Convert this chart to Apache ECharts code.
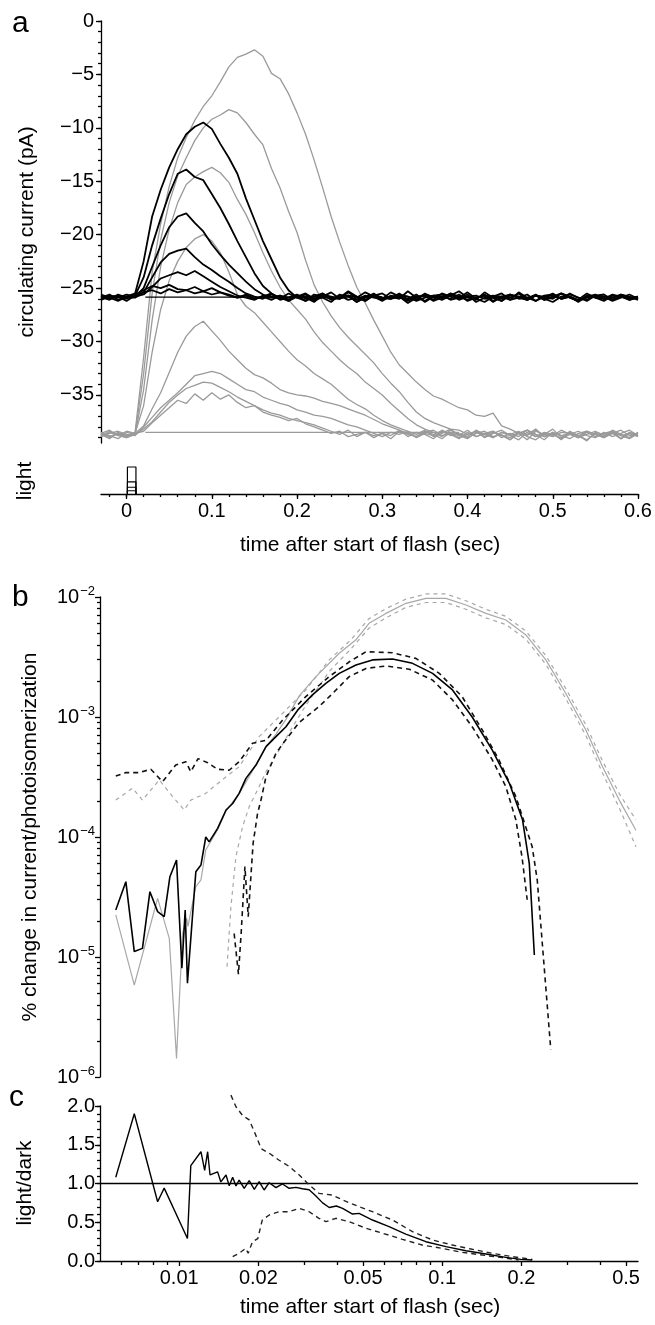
<!DOCTYPE html>
<html><head><meta charset="utf-8">
<script src="https://cdn.jsdelivr.net/npm/echarts@6/dist/echarts.min.js"></script>
<style>html,body{margin:0;padding:0;background:#fff}#c{width:655px;height:1325px}</style>
</head><body><div id="c"></div><script>
const FONT = '"Liberation Sans", Arial, Helvetica, sans-serif';

// ---------- panel a : time grid (s) ----------
const tA = [-0.03,-0.02,-0.01,0,0.01,0.02,0.03,0.04,0.05,0.06,0.07,0.08,0.09,0.1,0.11,0.12,0.13,0.14,0.15,0.16,0.17,0.18,0.19,0.2,0.21,0.22,0.23,0.24,0.25,0.26,0.27,0.28,0.29,0.3,0.31,0.32,0.33,0.34,0.35,0.36,0.37,0.38,0.39,0.4,0.41,0.42,0.43,0.44,0.45,0.46,0.47,0.48,0.49,0.5,0.51,0.52,0.53,0.54,0.55,0.56,0.57,0.58,0.59,0.6];

// dark-adapted responses (black), pA
const black1 = [-25.9,-25.6,-26.1,-25.8,-25.5,-22.5,-18.3,-15.8,-13.7,-12.0,-10.6,-9.9,-9.5,-10.1,-11.5,-12.8,-14.3,-16.6,-18.6,-20.6,-22.3,-24.0,-25.2,-25.9,-25.6,-26.2,-25.8,-25.4,-26.0,-25.7,-26.3,-25.9,-25.5,-26.1,-25.8,-26.0,-25.3,-25.9,-26.2,-25.7,-25.6,-26.1,-25.9,-25.4,-26.0,-26.3,-25.8,-25.5,-26.1,-25.9,-25.6,-26.2,-25.8,-25.7,-26.0,-25.5,-25.9,-26.2,-25.7,-25.8,-26.1,-25.6,-25.9,-25.8];
const black2 = [-25.7,-26.0,-25.8,-26.2,-25.7,-24.0,-21.0,-18.5,-16.2,-14.3,-13.9,-14.6,-14.9,-16.2,-17.5,-19.0,-20.6,-22.1,-23.6,-24.8,-25.5,-25.9,-26.1,-25.7,-25.9,-26.3,-25.6,-25.8,-26.0,-25.4,-25.9,-26.2,-25.7,-25.5,-26.0,-25.8,-26.4,-25.9,-25.6,-25.8,-26.1,-25.7,-25.3,-25.9,-26.0,-25.6,-26.2,-25.8,-25.9,-25.5,-26.1,-25.7,-26.0,-26.3,-25.8,-25.6,-25.9,-26.1,-25.7,-25.8,-26.2,-25.9,-25.6,-26.0];
const black3 = [-26.0,-25.7,-25.9,-25.6,-25.8,-25.0,-23.0,-21.0,-19.3,-18.3,-18.0,-18.9,-19.7,-20.9,-21.9,-22.8,-23.6,-24.4,-25.1,-25.6,-25.9,-25.7,-26.2,-25.8,-25.5,-26.0,-25.9,-26.3,-25.6,-25.8,-26.1,-25.7,-25.9,-26.0,-25.4,-25.8,-26.2,-25.9,-25.7,-26.1,-25.5,-25.8,-26.0,-25.6,-26.3,-25.9,-25.7,-25.8,-26.1,-25.4,-25.9,-26.2,-25.7,-25.6,-26.0,-25.8,-26.1,-25.5,-25.9,-26.2,-25.7,-25.8,-26.0,-25.9];
const black4 = [-25.8,-26.1,-25.6,-25.9,-25.9,-25.4,-24.0,-22.6,-21.8,-21.5,-21.3,-22.1,-22.8,-23.3,-23.9,-24.4,-25.0,-25.5,-25.8,-26.0,-25.6,-25.9,-26.2,-25.7,-25.8,-26.1,-25.5,-25.9,-26.0,-25.7,-26.3,-25.8,-25.6,-26.0,-25.9,-25.5,-26.1,-25.8,-25.7,-26.2,-25.9,-25.6,-26.0,-25.8,-26.1,-25.4,-25.9,-26.2,-25.7,-25.8,-26.0,-25.6,-26.1,-25.9,-25.5,-25.8,-26.3,-25.7,-25.9,-26.0,-25.6,-25.8,-26.1,-25.9];
const black5 = [-25.6,-25.9,-26.2,-25.8,-25.8,-25.6,-24.9,-24.1,-23.8,-23.5,-23.8,-23.4,-23.9,-24.4,-24.9,-25.3,-25.7,-25.9,-26.1,-25.7,-25.8,-26.0,-25.5,-25.9,-26.2,-25.6,-25.8,-26.0,-25.7,-26.1,-25.9,-25.4,-25.8,-26.2,-25.7,-25.9,-26.0,-25.6,-26.3,-25.8,-25.9,-25.5,-26.1,-25.8,-25.7,-26.0,-25.9,-26.2,-25.6,-25.8,-26.1,-25.7,-25.9,-25.5,-26.0,-25.8,-26.2,-25.9,-25.7,-25.6,-26.1,-25.8,-25.9,-26.0];
const black6 = [-26.1,-25.8,-25.7,-26.0,-25.6,-25.2,-24.8,-25.0,-24.7,-25.1,-25.2,-24.9,-25.3,-25.0,-25.4,-25.6,-25.9,-25.7,-26.0,-25.8,-25.5,-26.1,-25.9,-25.7,-26.2,-25.8,-25.6,-26.0,-25.9,-25.3,-25.8,-26.1,-25.7,-25.9,-26.0,-25.6,-25.8,-26.2,-25.9,-25.7,-26.0,-25.5,-25.8,-26.1,-25.9,-25.7,-26.3,-25.8,-25.6,-26.0,-25.9,-25.7,-26.1,-25.8,-25.5,-25.9,-26.2,-25.8,-25.6,-26.0,-25.9,-25.7,-26.1,-25.8];
const black7 = [-25.9,-26.0,-25.7,-25.8,-25.7,-25.4,-25.2,-25.5,-25.1,-25.4,-25.2,-25.5,-25.3,-25.6,-25.4,-25.7,-25.9,-25.6,-26.0,-25.8,-26.1,-25.7,-25.9,-25.6,-26.0,-25.8,-25.5,-26.1,-25.9,-25.7,-25.8,-26.2,-25.6,-25.9,-26.0,-25.7,-25.8,-26.1,-25.5,-25.9,-25.8,-26.0,-25.6,-26.2,-25.9,-25.7,-25.8,-26.0,-25.6,-25.9,-26.1,-25.7,-25.8,-26.0,-25.5,-25.9,-26.2,-25.8,-25.7,-26.0,-25.9,-25.6,-25.8,-26.1];

// light-adapted responses (grey), pA
const gray1 = [-38.7,-39.0,-38.6,-38.9,-38.5,-31.5,-23.5,-19.0,-15.5,-12.8,-10.9,-9.3,-8.0,-7.0,-5.7,-4.3,-3.4,-3.1,-2.7,-3.3,-4.9,-5.4,-6.8,-8.6,-10.6,-13.0,-15.6,-18.3,-20.7,-22.9,-24.9,-26.4,-28.0,-29.5,-31.0,-32.2,-33.0,-33.8,-34.5,-35.1,-35.4,-35.8,-36.2,-36.4,-36.9,-37.0,-36.7,-37.9,-38.2,-38.6,-38.3,-38.9,-38.5,-38.7,-39.1,-38.4,-38.8,-39.2,-38.6,-38.9,-38.3,-38.7,-39.0,-38.5];
const gray2 = [-38.9,-38.5,-38.8,-38.4,-38.6,-33.0,-25.5,-20.5,-17.0,-14.5,-12.8,-11.2,-10.0,-9.2,-8.8,-8.3,-8.6,-9.5,-10.6,-11.6,-13.8,-15.6,-17.8,-19.8,-22.4,-24.7,-26.3,-27.6,-28.7,-29.6,-30.4,-31.2,-32.0,-33.0,-33.9,-34.7,-35.7,-36.6,-37.2,-37.6,-37.9,-38.2,-38.3,-38.7,-38.4,-39.0,-38.6,-38.3,-38.8,-39.2,-38.5,-38.9,-38.7,-38.2,-39.0,-38.6,-38.8,-39.3,-38.5,-38.7,-38.4,-39.1,-38.6,-38.8];
const gray3 = [-38.6,-38.8,-39.1,-38.5,-38.7,-34.5,-28.0,-23.0,-19.5,-17.0,-15.3,-14.6,-14.1,-13.7,-14.2,-15.1,-16.7,-18.1,-19.8,-21.7,-23.4,-24.9,-26.1,-27.0,-27.9,-29.1,-30.1,-30.9,-31.7,-32.4,-33.0,-33.8,-34.4,-35.0,-35.8,-36.5,-37.2,-37.8,-38.2,-38.5,-38.9,-38.3,-38.7,-39.0,-38.6,-38.4,-38.9,-38.7,-39.2,-38.5,-38.8,-38.3,-38.9,-38.6,-39.1,-38.7,-38.4,-38.8,-39.0,-38.5,-38.9,-38.6,-38.3,-38.8];
const gray4 = [-38.8,-38.4,-38.7,-39.0,-38.6,-36.0,-31.0,-27.0,-24.3,-22.5,-21.2,-20.4,-20.0,-20.6,-21.7,-23.5,-25.6,-26.7,-27.3,-28.2,-29.1,-30.0,-30.9,-31.7,-32.3,-33.0,-33.5,-34.0,-34.7,-35.4,-35.9,-36.3,-36.9,-37.4,-37.8,-38.1,-38.4,-38.7,-38.3,-38.9,-38.6,-38.2,-38.8,-39.1,-38.5,-38.7,-38.4,-39.0,-38.6,-38.9,-38.3,-38.7,-39.2,-38.5,-38.8,-38.6,-39.0,-38.4,-38.7,-38.9,-38.5,-39.1,-38.6,-38.7];
const gray5 = [-38.5,-38.9,-38.6,-38.8,-38.6,-37.9,-36.3,-34.8,-32.9,-31.0,-29.5,-28.6,-28.1,-29.0,-29.9,-30.9,-31.7,-32.5,-33.1,-33.4,-33.9,-34.5,-34.8,-35.0,-35.1,-35.3,-35.6,-35.8,-36.0,-36.3,-36.6,-36.9,-37.3,-37.7,-38.0,-38.3,-38.6,-38.9,-38.4,-38.7,-39.1,-38.5,-38.8,-38.3,-38.9,-38.6,-39.0,-38.5,-38.7,-38.4,-38.9,-39.2,-38.6,-38.8,-38.3,-38.7,-39.0,-38.5,-38.9,-38.6,-38.4,-38.8,-39.1,-38.6];
const gray6 = [-38.9,-38.6,-38.4,-38.7,-38.8,-38.0,-37.1,-36.2,-35.5,-34.8,-34.0,-33.2,-33.0,-32.8,-33.0,-33.5,-34.0,-34.5,-34.7,-35.2,-35.5,-35.8,-36.0,-36.4,-36.6,-36.9,-37.0,-37.2,-37.5,-37.8,-38.0,-38.3,-38.6,-38.9,-38.5,-38.7,-38.4,-39.0,-38.6,-38.8,-38.3,-38.7,-39.1,-38.5,-38.9,-38.6,-38.4,-38.8,-39.0,-38.5,-38.7,-38.2,-38.9,-38.6,-39.2,-38.5,-38.8,-38.4,-38.7,-39.0,-38.6,-38.3,-38.8,-38.7];
const gray7 = [-38.6,-38.3,-38.8,-39.0,-38.7,-38.2,-37.5,-36.6,-35.7,-35.0,-34.4,-34.1,-33.8,-33.9,-34.3,-34.7,-35.2,-35.6,-36.0,-36.4,-36.7,-36.9,-37.2,-37.4,-37.6,-37.8,-38.1,-38.4,-38.7,-38.3,-38.9,-38.5,-38.8,-38.6,-39.1,-38.4,-38.7,-38.9,-38.5,-38.3,-38.8,-38.6,-39.0,-38.7,-38.4,-38.9,-38.5,-38.8,-39.2,-38.6,-38.3,-38.7,-38.9,-38.5,-38.8,-39.1,-38.6,-38.4,-38.7,-39.0,-38.5,-38.8,-38.6,-38.9];
const gray8 = [-38.7,-39.1,-38.5,-38.8,-38.6,-38.4,-37.6,-36.9,-36.2,-35.5,-35.8,-34.9,-35.5,-34.8,-35.4,-35.0,-35.7,-36.2,-36.0,-36.6,-36.9,-37.1,-37.4,-37.2,-37.7,-38.0,-38.3,-38.6,-38.4,-38.9,-38.7,-38.5,-39.0,-38.6,-38.8,-38.3,-38.9,-38.5,-38.7,-39.1,-38.4,-38.8,-38.6,-38.9,-38.3,-38.7,-39.0,-38.5,-38.8,-38.6,-39.2,-38.4,-38.7,-38.9,-38.5,-38.6,-39.0,-38.7,-38.4,-38.8,-38.6,-39.1,-38.5,-38.7];

// flat reference levels
const blackFlatT = [0.022, 0.30];
const blackFlatV = [-25.85, -25.85];
const grayFlatT = [0.022, 0.39];
const grayFlatV = [-38.5, -38.5];

// light monitor: flash on/off times (s) and relative intensities
const flashT = [0.001, 0.011];
const lightLevels = [1.0, 0.45, 0.25, 0.12];

// tick labels panel a
const aYTicks = [-35,-30,-25,-20,-15,-10,-5,0];
const aYMinor = [-39,-38,-37,-36,-35,-34,-33,-32,-31,-30,-29,-28,-27,-26,-25,-24,-23,-22,-21,-20,-19,-18,-17,-16,-15,-14,-13,-12,-11,-10,-9,-8,-7,-6,-5,-4,-3,-2,-1,0];
const aXTicks = [0,0.1,0.2,0.3,0.4,0.5,0.6];
const aXMinor = [-0.02,0,0.02,0.04,0.06,0.08,0.1,0.12,0.14,0.16,0.18,0.2,0.22,0.24,0.26,0.28,0.3,0.32,0.34,0.36,0.38,0.4,0.42,0.44,0.46,0.48,0.5,0.52,0.54,0.56,0.58,0.6];

// ---------- panel b : % change per photoisomerization ----------
const darkMeanT = [0.00574,0.00627,0.00675,0.00725,0.00774,0.00828,0.00877,0.00922,0.00977,0.01024,0.01054,0.01075,0.01157,0.0121,0.01262,0.013,0.014,0.01507,0.01597,0.0169,0.01794,0.01959,0.02138,0.02333,0.02547,0.0282,0.0321,0.0361,0.0406,0.047,0.0543,0.0647,0.0771,0.0919,0.1094,0.130,0.155,0.18,0.202,0.2143,0.224];
const darkMeanV = [2.46e-5,4.24e-5,1.11e-5,1.18e-5,3.5e-5,2.39e-5,2.17e-5,4.67e-5,6.43e-5,8.05e-6,2.46e-5,6.04e-6,5.14e-5,5.84e-5,1.0e-4,9.1e-5,1.18e-4,1.68e-4,1.9e-4,2.31e-4,3.08e-4,3.98e-4,5.66e-4,6.86e-4,8.3e-4,1.14e-3,1.53e-3,1.91e-3,2.31e-3,2.71e-3,2.99e-3,3.04e-3,2.8e-3,2.31e-3,1.68e-3,1.0e-3,5.3e-4,2.8e-4,1.39e-4,6.0e-5,1.04e-5];
const darkUpperT = [0.00574,0.00627,0.00705,0.0078,0.00865,0.0097,0.0106,0.01107,0.0118,0.01283,0.014,0.01549,0.0169,0.019,0.0214,0.0247,0.0303,0.0372,0.0445,0.0513,0.0647,0.0794,0.0975,0.119,0.142,0.1643,0.1905,0.2198,0.2297,0.2586];
const darkUpperV = [3.22e-4,3.44e-4,3.44e-4,3.67e-4,2.89e-4,3.98e-4,4.24e-4,3.5e-4,4.5e-4,4.16e-4,3.67e-4,3.6e-4,4.24e-4,6.04e-4,6.4e-4,9.4e-4,1.48e-3,2.17e-3,2.9e-3,3.5e-3,3.43e-3,3.08e-3,2.31e-3,1.48e-3,7.8e-4,4.4e-4,2.17e-4,8.3e-5,4.4e-5,1.7e-6];
const darkLowerT = [0.01618,0.0168,0.0172,0.01778,0.0183,0.0191,0.01986,0.02046,0.02138,0.02333,0.02547,0.0286,0.034,0.0383,0.0443,0.0513,0.0611,0.075,0.0919,0.1094,0.130,0.155,0.1745,0.1905,0.201,0.2104];
const darkLowerV = [1.57e-5,7.2e-6,1.57e-5,5.66e-5,2.17e-5,8.86e-5,1.57e-4,2.03e-4,3.18e-4,4.98e-4,6.5e-4,9.0e-4,1.22e-3,1.57e-3,2.17e-3,2.54e-3,2.66e-3,2.5e-3,2.03e-3,1.39e-3,8.3e-4,4.4e-4,2.63e-4,1.39e-4,6.85e-5,3.0e-5];
const lightMeanT = [0.00574,0.00675,0.00828,0.00917,0.00977,0.0103,0.01067,0.0108,0.01156,0.0121,0.01262,0.014,0.01507,0.0169,0.01959,0.02138,0.02333,0.0255,0.0286,0.0331,0.0406,0.047,0.0527,0.0611,0.0728,0.0867,0.1033,0.1231,0.1466,0.1746,0.208,0.2477,0.295,0.3516,0.407,0.471,0.545];
const lightMeanV = [2.24e-5,5.84e-6,3.08e-5,1.43e-5,1.43e-6,1.57e-5,2.1e-5,1.8e-5,3.85e-5,4.4e-5,7.8e-5,1.15e-4,1.65e-4,2.3e-4,4.0e-4,5.6e-4,7.2e-4,9.6e-4,1.5e-3,2.17e-3,3.4e-3,4.4e-3,6.04e-3,7.3e-3,8.86e-3,9.75e-3,9.75e-3,8.58e-3,7.3e-3,6.43e-3,4.83e-3,2.99e-3,1.57e-3,7.8e-4,3.85e-4,2.03e-4,1.14e-4];
const lightUpperT = [0.00574,0.00665,0.00725,0.0084,0.00944,0.01045,0.01107,0.01262,0.01507,0.0169,0.02014,0.0247,0.0303,0.0372,0.0445,0.0527,0.0611,0.0728,0.0867,0.1033,0.1231,0.1466,0.1746,0.208,0.2477,0.295,0.3516,0.407,0.471,0.545];
const lightUpperV = [2.03e-4,2.55e-4,2.03e-4,2.99e-4,2.17e-4,1.68e-4,2.03e-4,2.31e-4,3.18e-4,3.85e-4,6.86e-4,1.07e-3,1.68e-3,2.99e-3,4.3e-3,6.6e-3,8.0e-3,9.6e-3,1.06e-2,1.06e-2,9.3e-3,7.9e-3,6.9e-3,5.2e-3,3.25e-3,1.72e-3,8.6e-4,4.3e-4,2.3e-4,1.39e-4];
const lightLowerT = [0.0152,0.01573,0.01643,0.01742,0.01846,0.01986,0.02138,0.024,0.027,0.0303,0.0372,0.0445,0.0527,0.0611,0.0728,0.0867,0.1033,0.1231,0.1466,0.1746,0.208,0.2477,0.295,0.3516,0.407,0.471,0.545];
const lightLowerV = [8.3e-6,2.62e-5,6.85e-5,1.22e-4,1.79e-4,2.47e-4,3.5e-4,5.3e-4,8.3e-4,1.25e-3,2.4e-3,3.6e-3,5.5e-3,6.7e-3,8.2e-3,9.0e-3,9.0e-3,7.9e-3,6.7e-3,5.9e-3,4.45e-3,2.75e-3,1.42e-3,7.0e-4,3.4e-4,1.75e-4,8.3e-5];

// ---------- panel c : light/dark ratio ----------
const ratioT = [0.00574,0.00675,0.00828,0.00877,0.01075,0.01107,0.0121,0.0125,0.01283,0.0131,0.014,0.0144,0.01507,0.0155,0.01597,0.01644,0.0169,0.01767,0.01846,0.0193,0.02014,0.02104,0.02198,0.02333,0.0247,0.02619,0.0278,0.0294,0.0312,0.0331,0.0351,0.0372,0.0396,0.0418,0.0456,0.0483,0.0543,0.0628,0.0727,0.0867,0.1033,0.123,0.1466,0.1746,0.199,0.22];
const ratioV = [1.08,1.90,0.765,0.94,0.29,1.23,1.41,1.17,1.41,1.11,1.15,1.02,1.11,0.97,1.08,0.968,1.045,0.938,1.036,0.925,1.023,0.916,1.01,0.946,0.994,0.938,0.95,0.933,0.92,0.84,0.75,0.69,0.71,0.68,0.606,0.615,0.529,0.443,0.348,0.249,0.185,0.133,0.09,0.047,0.021,0.013];
const ratioUpperT = [0.01573,0.01644,0.0174,0.01846,0.0193,0.0205,0.022,0.024,0.0262,0.0286,0.0308,0.034,0.0383,0.0418,0.0483,0.0543,0.0647,0.0771,0.0919,0.1094,0.130,0.155,0.185,0.22];
const ratioUpperV = [2.14,1.99,1.88,1.82,1.67,1.45,1.39,1.30,1.22,1.11,1.0,0.873,0.85,0.787,0.70,0.636,0.529,0.378,0.271,0.206,0.151,0.099,0.056,0.021];
const ratioLowerT = [0.01597,0.0169,0.0179,0.0183,0.019,0.0199,0.0207,0.022,0.024,0.0262,0.0286,0.0312,0.034,0.0361,0.0394,0.0443,0.0513,0.0595,0.0706,0.0839,0.1,0.119,0.142,0.169,0.195];
const ratioLowerV = [0.056,0.099,0.163,0.10,0.249,0.29,0.529,0.594,0.636,0.636,0.68,0.636,0.551,0.507,0.551,0.507,0.422,0.357,0.28,0.206,0.163,0.112,0.077,0.043,0.013];
const unityT = [0.005, 0.555];
const unityV = [1, 1];

// tick labels panels b/c
const logXMin = 0.005, logXMax = 0.555;
const bcXTicks = [0.01,0.02,0.05,0.1,0.2,0.5];
const bcXMinor = [0.006,0.007,0.008,0.009,0.03,0.04,0.06,0.07,0.08,0.09,0.3,0.4];
const bYDecades = [-6,-5,-4,-3,-2];
const bYMinorMult = [2,3,4,5,6,7,8,9];
const cYTicks = [0,0.5,1,1.5,2];
const cYMinor = [0,0.1,0.2,0.3,0.4,0.5,0.6,0.7,0.8,0.9,1,1.1,1.2,1.3,1.4,1.5,1.6,1.7,1.8,1.9,2];

// ---------- build ----------
const L10 = Math.log10;
const bYMinor = [];
bYDecades.slice(0, 4).forEach(n => bYMinorMult.forEach(k => bYMinor.push(L10(k) + n)));

const AX = {color: '#000', width: 1.3};
function pairs(ts, vs) { return ts.map((t, i) => [t, vs[i]]); }
function ln(xi, yi, ts, vs, color, width, dash, z, clip) {
  return {type: 'line', xAxisIndex: xi, yAxisIndex: yi, data: pairs(ts, vs),
    showSymbol: false, symbol: 'none', silent: true, animation: false,
    clip: clip !== false, z: z || 2,
    lineStyle: {color: color, width: width, type: dash || 'solid'}};
}
function lbl(extra) {
  return Object.assign({fontFamily: FONT, fontSize: 20, color: '#000'}, extra);
}
function tickAxis(base) {
  return Object.assign({type: 'value', axisLine: {show: false, onZero: false},
    splitLine: {show: false}, axisLabel: {show: false}}, base);
}

const series = [];
[gray1, gray2, gray3, gray4, gray5, gray6, gray7, gray8].forEach(g =>
  series.push(ln(0, 0, tA, g, '#9a9a9a', 1.3, 'solid', 2)));
series.push(ln(0, 0, grayFlatT, grayFlatV, '#9a9a9a', 1.3, 'solid', 2));
series.push(ln(0, 0, blackFlatT, blackFlatV, '#000', 1.3, 'solid', 3));
[black7, black6, black5, black4, black3, black2, black1].forEach(b =>
  series.push(ln(0, 0, tA, b, '#000', 1.8, 'solid', 3)));
lightLevels.forEach(h => series.push(ln(1, 2,
  [flashT[0], flashT[0], flashT[1], flashT[1]], [0, h, h, 0], '#000', 1.2, 'solid', 3, false)));

series.push(ln(3, 3, lightUpperT, lightUpperV, '#a8a8a8', 1.2, [4, 4], 2, false));
series.push(ln(3, 3, lightLowerT, lightLowerV, '#a8a8a8', 1.2, [4, 4], 2, false));
series.push(ln(3, 3, lightMeanT, lightMeanV, '#a8a8a8', 1.2, 'solid', 2, false));
series.push(ln(3, 3, darkUpperT, darkUpperV, '#111', 1.6, [5, 4], 3, false));
series.push(ln(3, 3, darkLowerT, darkLowerV, '#111', 1.6, [5, 4], 3, false));
series.push(ln(3, 3, darkMeanT, darkMeanV, '#000', 1.6, 'solid', 4, false));

series.push(ln(4, 6, unityT, unityV, '#000', 1.3, 'solid', 3));
series.push(ln(4, 6, ratioUpperT, ratioUpperV, '#222', 1.4, [5, 4], 3, false));
series.push(ln(4, 6, ratioLowerT, ratioLowerV, '#222', 1.4, [5, 4], 3, false));
series.push(ln(4, 6, ratioT, ratioV, '#000', 1.4, 'solid', 4, false));

const grids = [
  {left: 101, top: 21, width: 537, height: 422},
  {left: 101, top: 467, width: 537, height: 27},
  {left: 100, top: 597, width: 538, height: 480},
  {left: 100, top: 1106, width: 538, height: 155}
].map(g => Object.assign({containLabel: false, outerBoundsMode: 'none'}, g));

const fmtA = v => v === 0 ? '0' : '\u2212' + Math.abs(v);
const fmtT = v => v === 0 ? '0' : String(Math.round(v * 10) / 10);
const fmtLogX = v => String(parseFloat(Math.pow(10, v).toPrecision(1)));

const xAxis = [
  {type: 'value', gridIndex: 0, min: -0.03, max: 0.6, show: false},
  {type: 'value', gridIndex: 1, min: -0.03, max: 0.6, position: 'bottom',
    axisLine: {show: true, onZero: false, lineStyle: AX}, splitLine: {show: false},
    axisTick: {show: true, length: 5, lineStyle: AX, customValues: aXTicks},
    axisLabel: lbl({margin: 7, customValues: aXTicks, formatter: fmtT})},
  tickAxis({gridIndex: 1, min: -0.03, max: 0.6, position: 'bottom',
    axisTick: {show: true, length: 3, lineStyle: AX, customValues: aXMinor}}),
  {type: 'log', gridIndex: 2, min: logXMin, max: logXMax, show: false},
  {type: 'log', gridIndex: 3, min: logXMin, max: logXMax, show: false},
  {type: 'value', gridIndex: 3, min: L10(logXMin), max: L10(logXMax), position: 'bottom',
    axisLine: {show: true, onZero: false, lineStyle: AX}, splitLine: {show: false},
    axisTick: {show: true, length: 5, lineStyle: AX, customValues: bcXTicks.map(L10)},
    axisLabel: lbl({margin: 7, customValues: bcXTicks.map(L10), formatter: fmtLogX})},
  tickAxis({gridIndex: 3, min: L10(logXMin), max: L10(logXMax), position: 'bottom',
    axisTick: {show: true, length: 4, lineStyle: AX, customValues: bcXMinor.map(L10)}})
];

const yAxis = [
  {type: 'value', gridIndex: 0, min: -39.5, max: 0, position: 'left',
    axisLine: {show: true, onZero: false, lineStyle: AX}, splitLine: {show: false},
    axisTick: {show: true, length: 5, lineStyle: AX, customValues: aYTicks},
    axisLabel: lbl({margin: 7, customValues: aYTicks, formatter: fmtA})},
  tickAxis({gridIndex: 0, min: -39.5, max: 0, position: 'left',
    axisTick: {show: true, length: 3, lineStyle: AX, customValues: aYMinor}}),
  {type: 'value', gridIndex: 1, min: 0, max: 1, show: false},
  {type: 'log', gridIndex: 2, min: 1e-6, max: 1e-2, show: false},
  {type: 'value', gridIndex: 2, min: -6, max: -2, position: 'left',
    axisLine: {show: true, onZero: false, lineStyle: AX}, splitLine: {show: false},
    axisTick: {show: true, length: 5, lineStyle: AX, customValues: bYDecades},
    axisLabel: {margin: 5, customValues: bYDecades,
      formatter: v => '{m|10}{s|\u2212' + Math.round(-v) + '}',
      rich: {m: {fontFamily: FONT, fontSize: 20, color: '#000', lineHeight: 24},
             s: {fontFamily: FONT, fontSize: 13, color: '#000', verticalAlign: 'top', padding: [0, 0, 0, 1]}}}},
  tickAxis({gridIndex: 2, min: -6, max: -2, position: 'left',
    axisTick: {show: true, length: 3, lineStyle: AX, customValues: bYMinor}}),
  {type: 'value', gridIndex: 3, min: 0, max: 2, position: 'left',
    axisLine: {show: true, onZero: false, lineStyle: AX}, splitLine: {show: false},
    axisTick: {show: true, length: 5, lineStyle: AX, customValues: cYTicks},
    axisLabel: lbl({margin: 5, customValues: cYTicks, formatter: v => v.toFixed(1)})},
  tickAxis({gridIndex: 3, min: 0, max: 2, position: 'left',
    axisTick: {show: true, length: 3, lineStyle: AX, customValues: cYMinor}})
];

function txt(s, x, y, size, rot, align) {
  return {type: 'text', x: x, y: y, rotation: rot || 0, silent: true,
    style: {text: s, font: size + 'px ' + FONT, fill: '#000',
      textAlign: align || 'center', align: align || 'center',
      textVerticalAlign: 'middle', verticalAlign: 'middle'}};
}
const R = Math.PI / 2;
const graphic = [
  txt('a', 12, 24, 30, 0, 'left'),
  txt('b', 12, 598, 30, 0, 'left'),
  txt('c', 9, 1098, 30, 0, 'left'),
  txt('circulating current (pA)', 27, 232, 21, R),
  txt('light', 25, 481, 21, R),
  txt('time after start of flash (sec)', 370, 545, 21),
  txt('% change in current/photoisomerization', 30, 837, 21, R),
  txt('light/dark', 25, 1183, 21, R),
  txt('time after start of flash (sec)', 370, 1307, 21)
];

const chart = echarts.init(document.getElementById('c'), null, {renderer: 'canvas'});
chart.setOption({
  animation: false, backgroundColor: '#fff',
  grid: grids, xAxis: xAxis, yAxis: yAxis, series: series, graphic: graphic
});
</script></body></html>
